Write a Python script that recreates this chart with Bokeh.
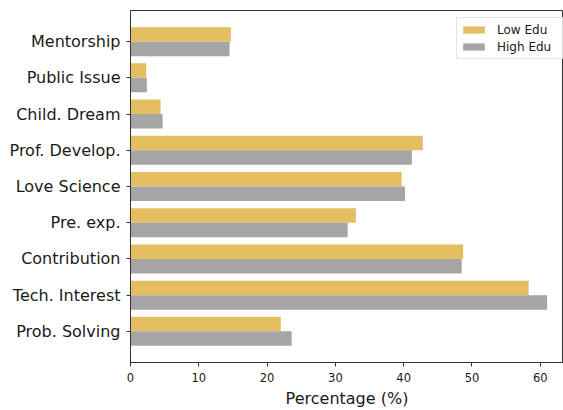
from bokeh.plotting import figure
from bokeh.models import FactorRange, Range1d, Legend, LegendItem, ColumnDataSource
from bokeh.transform import dodge
from bokeh.embed import file_html
from bokeh.resources import INLINE

categories = ["Mentorship", "Public Issue", "Child. Dream", "Prof. Develop.",
              "Love Science", "Pre. exp.", "Contribution", "Tech. Interest",
              "Prob. Solving"]
low_edu = [14.7, 2.3, 4.4, 42.8, 39.7, 33.0, 48.7, 58.3, 22.0]
high_edu = [14.5, 2.4, 4.7, 41.2, 40.2, 31.8, 48.5, 61.0, 23.6]
x_ticks = [0, 10, 20, 30, 40, 50, 60]
series_names = ["Low Edu", "High Edu"]

GOLD = "#E5BE62"
GRAY = "#A5A5A5"
FONT = "DejaVu Sans"

src = ColumnDataSource(dict(cat=categories, low=low_edu, high=high_edu))
factors = list(reversed(categories))

p = figure(width=563, height=410,
           y_range=FactorRange(factors=factors, range_padding=0.08),
           x_range=Range1d(0, 63.4),
           output_backend="svg", toolbar_location=None,
           min_border_left=130, min_border_top=10, min_border_right=0,
           min_border_bottom=45)

r_low = p.hbar(y=dodge("cat", 0.2, range=p.y_range), right="low", left=0,
               height=0.4, source=src, fill_color=GOLD, line_color=None)
r_high = p.hbar(y=dodge("cat", -0.2, range=p.y_range), right="high", left=0,
                height=0.4, source=src, fill_color=GRAY, line_color=None)

p.xgrid.visible = False
p.ygrid.visible = False
p.outline_line_color = "#333333"
p.outline_line_width = 1
p.background_fill_color = "white"
p.border_fill_color = "white"

for ax in (p.xaxis[0], p.yaxis[0]):
    ax.axis_line_color = "#333333"
    ax.major_tick_line_color = "#333333"
    ax.minor_tick_line_color = None
    ax.major_tick_in = 0
    ax.major_tick_out = 4
    ax.major_label_text_font = FONT
    ax.major_label_text_color = "#1a1a1a"

p.xaxis.ticker = x_ticks
p.xaxis.major_label_text_font_size = "11.5px"
p.xaxis.major_label_standoff = 6
p.xaxis.axis_label = "Percentage (%)"
p.xaxis.axis_label_text_font = FONT
p.xaxis.axis_label_text_font_size = "16px"
p.xaxis.axis_label_text_font_style = "normal"
p.xaxis.axis_label_text_color = "#1a1a1a"
p.xaxis.axis_label_standoff = 4

p.yaxis.major_label_text_font_size = "16px"
p.yaxis.major_label_standoff = 6

legend = Legend(items=[LegendItem(label=series_names[0], renderers=[r_low]),
                       LegendItem(label=series_names[1], renderers=[r_high])],
                location=(326, 303))
legend.label_text_font = FONT
legend.label_text_font_size = "12px"
legend.label_text_color = "#1a1a1a"
legend.glyph_width = 27
legend.glyph_height = 9
legend.label_height = 17
legend.label_width = 63
legend.spacing = 0
legend.padding = 3
legend.label_standoff = 10
legend.margin = 0
legend.border_line_color = "#cccccc"
legend.border_line_width = 1
legend.background_fill_alpha = 0.8
p.add_layout(legend, "center")

open("out.html", "w").write(file_html(p, INLINE))
